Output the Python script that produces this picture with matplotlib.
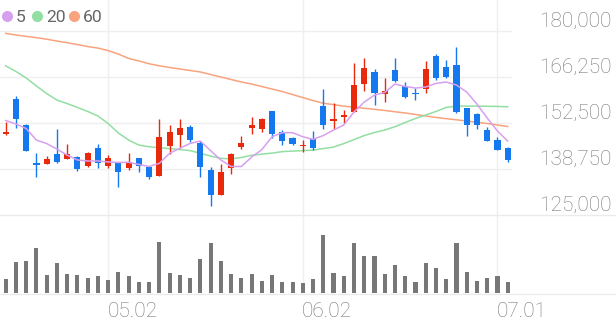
import matplotlib
matplotlib.use('Agg')
import matplotlib.pyplot as plt
import numpy as np

# daily candles, price in KRW
opens = [149100, 159600, 151900, 140550, 140300, 143150, 141750, 142300, 139650, 144950,
         139550, 140450, 138950, 141950, 139400, 136750, 145600, 148900, 151400, 146600,
         138450, 130950, 139100, 145400, 151100, 150800, 156150, 149800, 148100, 145600,
         147700, 157650, 153100, 154300, 155850, 164050, 167850, 161250, 168350, 163650,
         161450, 162550, 172600, 169350, 169850, 157050, 155100, 150400, 147400, 144950]
highs = [152900, 160550, 152100, 143600, 142700, 150700, 146200, 142700, 143900, 146200,
         142900, 140500, 143450, 142100, 139450, 153600, 151900, 153700, 151900, 147100,
         139400, 140150, 143450, 148600, 154400, 154000, 156200, 150400, 148400, 147400,
         150200, 162650, 158550, 156400, 170350, 171850, 168650, 166050, 172000, 164650,
         162850, 171100, 173100, 171350, 175100, 157100, 155400, 151400, 148400, 145300]
lows = [149000, 151100, 144100, 136250, 140200, 140600, 141700, 138250, 139400, 139100,
        138950, 133450, 138450, 137750, 135650, 136700, 143150, 144950, 146900, 136450,
        127750, 130900, 137150, 144650, 149200, 149700, 147900, 145800, 145900, 143750,
        144400, 150600, 150600, 152400, 155800, 162050, 157850, 158850, 164850, 159900,
        159350, 161550, 165350, 165850, 155400, 148700, 150600, 147100, 144400, 140850]
closes = [149900, 153600, 144200, 139950, 141750, 140900, 143200, 138750, 143600, 140450,
          141950, 137750, 140750, 139550, 136250, 148200, 149900, 151100, 147400, 139250,
          130950, 137750, 143200, 146400, 151900, 153800, 149100, 147100, 146200, 146000,
          145100, 152000, 153600, 154800, 163850, 168850, 161350, 162050, 165150, 160200,
          161050, 168550, 165850, 166150, 155700, 151900, 151900, 147100, 144400, 141450]
volume = [280, 620, 650, 900, 370, 600, 390, 370, 310, 340,
          260, 430, 340, 230, 230, 1030, 410, 370, 300, 680,
          1010, 650, 390, 310, 390, 250, 360, 230, 230, 210,
          280, 1160, 410, 350, 1010, 750, 750, 390, 560, 350,
          220, 610, 500, 290, 1000, 420, 250, 310, 350, 230]

ma5 = [153250, 152200, 150850, 147400, 146350, 144700, 142900, 141450, 141150, 141150,
       140850, 140700, 140750, 140100, 139500, 140450, 143450, 144950, 146400, 147100,
       144250, 141450, 139500, 139500, 142300, 144550, 148400, 149600, 149600, 148400,
       147600, 148750, 150400, 151900, 155800, 158750, 160850, 161650, 164150, 163400,
       162950, 163250, 164350, 164750, 163850, 161750, 158150, 154000, 150100, 147100]
ma20 = [169600, 167900, 165950, 163550, 161300, 159350, 158300, 157150, 155950, 154600,
        152350, 149500, 147400, 145900, 145400, 145100, 144850, 144550, 144250, 143450,
        142600, 141950, 141750, 142200, 142850, 143200, 143500, 143950, 144100, 144250,
        144400, 144850, 145300, 146350, 147550, 148750, 149650, 150400, 151400, 152650,
        153850, 154900, 155950, 157150, 157550, 157550, 157550, 157500, 157450, 157350]
ma60 = [179300, 178800, 178400, 178000, 177550, 177000, 176500, 175950, 175350, 174900,
        174150, 173100, 171800, 171050, 170200, 169600, 169100, 168650, 168200, 167750,
        167000, 166250, 165500, 164750, 164150, 163400, 162650, 161900, 161000, 160100,
        159200, 158400, 158000, 157550, 157200, 156900, 156600, 156250, 155850, 155500,
        155050, 154600, 154150, 153800, 153450, 153100, 152700, 152350, 151900, 151450]

price_ticks = [138750, 152500, 166250, 180000]
price_labels = ['125,000', '138,750', '152,500', '166,250', '180,000']
label_values = [125000, 138750, 152500, 166250, 180000]
tick_pos = [10, 29, 48]
tick_labels = ['05.02', '06.02', '07.01']

UP = '#e8290c'
DOWN = '#1479ee'
GRID = '#efefef'
TXT = '#777777'

plt.rcParams['font.family'] = ['Roboto', 'DejaVu Sans']

W, H = 616, 321
fig = plt.figure(figsize=(W / 100, H / 100), dpi=100)

x = np.arange(len(closes))
xlim = (-0.556, 49.42)

# price panel: pixel rows 0..215
ax = fig.add_axes([0, 1 - 215 / H, 512 / W, 215 / H])
# volume panel: pixel rows 215..293
axv = fig.add_axes([0, 1 - 293 / H, 512 / W, 78 / H])

o = np.array(opens); c = np.array(closes)
hi = np.array(highs); lo = np.array(lows)
colors = [UP if cc >= oo else DOWN for oo, cc in zip(o, c)]
body_bottom = np.minimum(o, c)
body_h = np.maximum(np.abs(c - o), 450)

ax.vlines(x, lo, hi, colors=colors, linewidth=1.0, zorder=3)
ax.bar(x, body_h, bottom=body_bottom, width=0.6, color=colors, zorder=4)
ax.plot(x, ma60, color='#f9a37e', lw=1.1, zorder=2)
ax.plot(x, ma20, color='#93dea2', lw=1.1, zorder=2)
ax.plot(x, ma5, color='#d7a0ef', lw=1.1, zorder=5)

ax.set_xlim(*xlim)
ax.set_ylim(125000, 189266)
ax.set_yticks(price_ticks)
ax.set_xticks(tick_pos)
ax.grid(True, color=GRID, lw=1.0, zorder=0)
ax.tick_params(length=0, labelbottom=False, labelleft=False)
for s in ax.spines.values():
    s.set_visible(False)

for val, lab in zip(label_values, price_labels):
    ax.annotate(lab, xy=(1, val), xycoords=('axes fraction', 'data'),
                xytext=(72, 2.9), textcoords='offset points',
                ha='right', va='baseline', fontsize=15, color=TXT,
                fontweight='light', annotation_clip=False)

axv.bar(x, volume, width=0.4, color='#777777', zorder=3)
axv.set_xlim(*xlim)
axv.set_ylim(0, 1560)
axv.set_xticks(tick_pos)
axv.set_yticks([])
axv.grid(True, axis='x', color=GRID, lw=1.0, zorder=0)
axv.tick_params(length=0, labelbottom=False)
for s in axv.spines.values():
    s.set_visible(False)

for p, lab in zip(tick_pos, tick_labels):
    axv.annotate(lab, xy=(p, 0), xycoords=('data', 'axes fraction'),
                 xytext=(-0.5, -17.3), textcoords='offset points',
                 ha='left', va='baseline', fontsize=15, color=TXT,
                 fontweight='light', annotation_clip=False)

# full-width separators
for yy in (214.5, 293.5):
    fig.add_artist(plt.Line2D([0, 1], [1 - yy / H, 1 - yy / H],
                              transform=fig.transFigure, color='#ebebeb', lw=1.0))

# legend
for cx, col, tx, lab in [(6.7, '#d7a0ef', 15.5, '5'), (36.7, '#93dea2', 46, '20'),
                         (74, '#f9a37e', 83, '60')]:
    fig.add_artist(plt.Line2D([cx / W], [1 - 16 / H], transform=fig.transFigure,
                              marker='o', ms=8, color=col, mec='none'))
    fig.text(tx / W, 1 - 22 / H, lab, fontsize=12.6, color='#666666',
             ha='left', va='baseline')

fig.savefig('out.png', dpi=100)
